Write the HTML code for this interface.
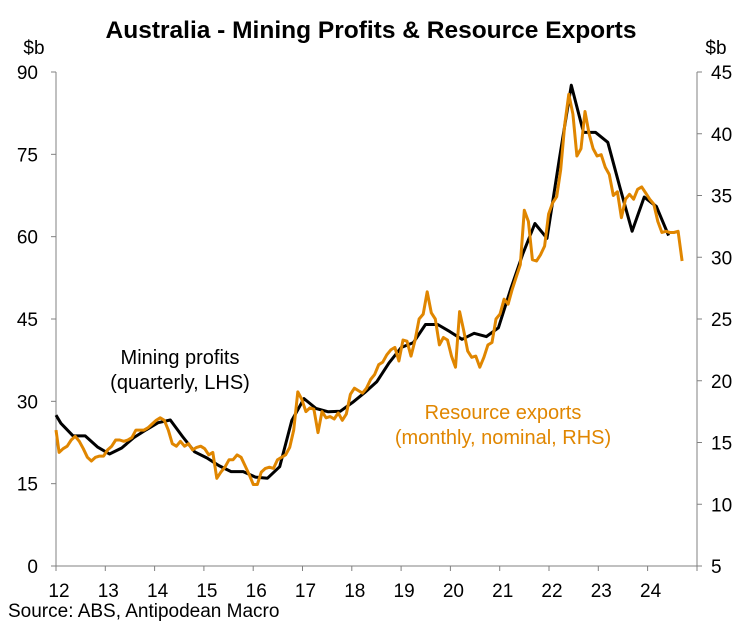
<!DOCTYPE html>
<html><head><meta charset="utf-8"><style>
html,body{margin:0;padding:0;background:#fff;}
svg{display:block;font-family:"Liberation Sans",Arial,sans-serif;}
</style></head><body>
<svg id="chart" width="741" height="624" viewBox="0 0 741 624">
<text x="371" y="38" text-anchor="middle" font-size="24.5" font-weight="bold" fill="#000">Australia - Mining Profits &amp; Resource Exports</text>
<text x="34" y="54" text-anchor="middle" font-size="19" fill="#000">$b</text>
<text x="716" y="54" text-anchor="middle" font-size="19" fill="#000">$b</text>
<g id="axes"></g>
<g id="series"></g>
<text x="180" y="364" text-anchor="middle" font-size="20" fill="#000">Mining profits</text>
<text x="180" y="389" text-anchor="middle" font-size="20" fill="#000">(quarterly, LHS)</text>
<text x="503" y="419" text-anchor="middle" font-size="20" fill="#E08600">Resource exports</text>
<text x="503" y="444" text-anchor="middle" font-size="20" fill="#E08600">(monthly, nominal, RHS)</text>
<text x="8" y="617" font-size="19" fill="#000">Source: ABS, Antipodean Macro</text>
</svg>
<script>
const yearLabels = ["12","13","14","15","16","17","18","19","20","21","22","23","24"];
const leftTicks = [0,15,30,45,60,75,90];
const rightTicks = [5,10,15,20,25,30,35,40,45];
const miningProfits = [26.0,23.7,23.7,21.7,20.4,21.5,23.4,24.8,26.1,26.6,23.6,20.8,19.7,18.3,17.2,17.2,16.2,16.0,18.1,26.5,30.5,28.7,28.1,28.2,29.8,31.6,33.6,37.0,39.8,40.7,44.0,44.0,42.7,41.3,42.4,41.8,43.4,50.4,56.8,62.4,59.7,74.0,87.6,79.0,79.0,77.2,69.0,61.0,67.2,65.5,60.2];
const resourceExports = [16.0,14.2,14.5,14.7,15.2,15.5,15.1,14.5,13.8,13.5,13.8,13.9,13.9,14.4,14.7,15.2,15.2,15.1,15.2,15.4,16.0,16.0,16.0,16.2,16.5,16.8,17.0,16.8,16.0,14.9,14.7,15.1,14.7,14.9,14.4,14.6,14.7,14.5,14.0,14.2,12.1,12.6,13.0,13.6,13.6,14.0,13.8,13.1,12.4,11.6,11.6,12.6,12.9,13.0,12.9,13.6,13.8,14.0,14.6,16.0,19.1,18.5,17.5,17.8,17.7,15.8,17.5,17.0,17.1,16.9,17.4,16.8,17.3,18.9,19.4,19.2,19.0,19.4,20.1,20.5,21.3,21.5,22.1,22.5,22.7,21.6,23.3,23.2,22.0,23.3,25.0,25.4,27.2,25.5,25.0,22.9,23.5,23.3,22.0,21.1,25.6,24.1,22.4,21.9,22.0,21.1,21.9,22.9,23.1,25.0,25.4,26.6,26.2,27.4,28.4,29.4,33.8,32.9,29.8,29.7,30.2,30.9,33.5,34.4,34.9,37.1,40.8,43.2,41.6,38.2,38.8,41.8,40.0,38.8,38.2,38.3,37.3,36.7,35.0,35.3,33.2,34.7,35.1,34.7,35.5,35.7,35.2,34.7,34.3,32.9,32.0,32.1,32.0,32.0,32.1,29.7];

const NS="http://www.w3.org/2000/svg";
const X0=56, YW=49.3, YT=72, YB=566, XR=697;
function xScale(t){return X0+(t-2012)*YW;}
function yLeft(v){return YB-(v/90)*(YB-YT);}
function yRight(v){return YB-((v-5)/40)*(YB-YT);}
function qDate(i){return 2012+0.1+i*0.2465;}
function mDate(m){return 2012-0.02+m*(12.72/155);}
function mk(tag,attrs,parent){const e=document.createElementNS(NS,tag);for(const k in attrs)e.setAttribute(k,attrs[k]);parent.appendChild(e);return e;}
const axes=document.getElementById('axes');
const series=document.getElementById('series');
const axisCol="#808080";

const la=mk('line',{x1:X0,y1:YT,x2:X0,y2:YB,stroke:axisCol,'stroke-width':1},axes);


const ra=mk('line',{x1:XR,y1:YT,x2:XR,y2:YB,stroke:axisCol,'stroke-width':1},axes);


const xa=mk('line',{x1:X0-5,y1:YB,x2:XR,y2:YB,stroke:axisCol,'stroke-width':1},axes);



leftTicks.forEach(v=>{
  const y=yLeft(v);
  mk('line',{x1:X0-5,y1:y,x2:X0,y2:y,stroke:axisCol,'stroke-width':1},axes);
  const t=mk('text',{x:38,y:y+7,'text-anchor':'end','font-size':19,fill:'#000'},axes);
  t.textContent=v;
  
  
});
rightTicks.forEach(v=>{
  const y=yRight(v);
  mk('line',{x1:XR,y1:y,x2:XR+5,y2:y,stroke:axisCol,'stroke-width':1},axes);
  const t=mk('text',{x:711,y:y+7,'text-anchor':'start','font-size':19,fill:'#000'},axes);
  t.textContent=v;
  
  
});
yearLabels.forEach((lab,i)=>{
  const x=xScale(2012+i);
  mk('line',{x1:x,y1:YB,x2:x,y2:YB+5,stroke:axisCol,'stroke-width':1},axes);
  const t=mk('text',{x:x+3,y:597,'text-anchor':'middle','font-size':19,fill:'#000'},axes);
  t.textContent=lab;
  
  
});
mk('line',{x1:XR,y1:YB,x2:XR,y2:YB+5,stroke:axisCol,'stroke-width':1},axes);

const bp=miningProfits.map((v,i)=>(i?'L':'M')+xScale(qDate(i)).toFixed(1)+','+yLeft(v).toFixed(1)).join('');
const bl=mk('path',{d:'M'+X0+','+yLeft(27.5).toFixed(1)+'L'+bp.slice(1),fill:'none',stroke:'#000','stroke-width':3,'stroke-linejoin':'round'},series);



const op=resourceExports.map((v,m)=>(m?'L':'M')+Math.max(X0,xScale(mDate(m))).toFixed(1)+','+yRight(v).toFixed(1)).join('');
const ol=mk('path',{d:op,fill:'none',stroke:'#E08600','stroke-width':3,'stroke-linejoin':'round'},series);


</script>
</body></html>
